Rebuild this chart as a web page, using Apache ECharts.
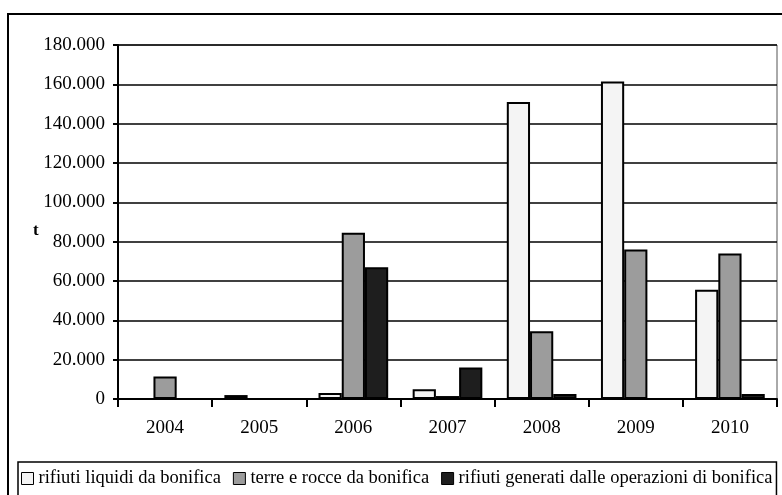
<!DOCTYPE html>
<html>
<head>
<meta charset="utf-8">
<title>Rifiuti da bonifica</title>
<script src="https://cdn.jsdelivr.net/npm/echarts@6/dist/echarts.min.js"></script>
<style>
  html, body { margin: 0; padding: 0; background: #fff; }
  #chart { width: 782px; height: 495px; }
</style>
</head>
<body>
<div id="chart"></div>
<script>
// anni e serie (t)
var anni = ['2004', '2005', '2006', '2007', '2008', '2009', '2010'];
var liquidi = [0, 2000, 3000, 5000, 151000, 161500, 55500];
var terre = [11500, 0, 84500, 1500, 34500, 76000, 74000];
var generati = [0, 0, 67000, 16000, 2500, 0, 2500];
var nomi = ['rifiuti liquidi da bonifica', 'terre e rocce da bonifica', 'rifiuti generati dalle operazioni di bonifica'];

var font = '"Liberation Serif", "Times New Roman", serif';

function fmt(v) {
  return String(v).replace(/\B(?=(\d{3})+(?!\d))/g, '.');
}

var chart = echarts.init(document.getElementById('chart'));
var option = {
  animation: false,
  backgroundColor: '#fff',
  textStyle: { fontFamily: font, color: '#000' },
  graphic: [
    {
      type: 'rect',
      shape: { x: 8, y: 14, width: 790, height: 500 },
      style: { fill: 'none', stroke: '#000', lineWidth: 2 }
    },
    {
      type: 'text',
      left: 33, top: 222,
      style: { text: 't', font: 'bold 17px ' + font, fill: '#000' }
    }
  ],
  grid: { left: 118, right: 5, top: 45, bottom: 96, show: true, borderColor: '#555', borderWidth: 1 },
  legend: {
    left: 18, top: 462,
    padding: [7, 4, 9, 3],
    itemGap: 12,
    itemWidth: 12, itemHeight: 12,
    icon: 'rect',
    borderColor: '#000', borderWidth: 1.5,
    itemStyle: { borderColor: '#000', borderWidth: 1 },
    textStyle: { fontFamily: font, fontSize: 18.5, color: '#000' },
    data: nomi
  },
  xAxis: {
    type: 'category',
    data: anni,
    axisLine: { lineStyle: { color: '#000', width: 2 } },
    axisTick: { show: true, length: 8, lineStyle: { color: '#000', width: 2 } },
    axisLabel: { fontFamily: font, fontSize: 19, color: '#000', margin: 20 }
  },
  yAxis: {
    type: 'value',
    min: 0, max: 180000, interval: 20000,
    axisLine: { show: true, lineStyle: { color: '#000', width: 2 } },
    axisTick: { show: true, length: 5, lineStyle: { color: '#000', width: 2 } },
    axisLabel: { fontFamily: font, fontSize: 19, color: '#000', margin: 13, formatter: fmt },
    splitLine: { lineStyle: { color: '#000', width: 1.5 } }
  },
  series: [
    {
      name: nomi[0], type: 'bar', data: liquidi,
      barGap: '0%', barCategoryGap: '26%',
      itemStyle: { color: '#f4f4f4', borderColor: '#000', borderWidth: 2 }
    },
    {
      name: nomi[1], type: 'bar', data: terre,
      itemStyle: { color: '#9c9c9c', borderColor: '#000', borderWidth: 2 }
    },
    {
      name: nomi[2], type: 'bar', data: generati,
      itemStyle: { color: '#1e1e1e', borderColor: '#000', borderWidth: 2 }
    }
  ]
};
chart.setOption(option);
</script>
</body>
</html>
